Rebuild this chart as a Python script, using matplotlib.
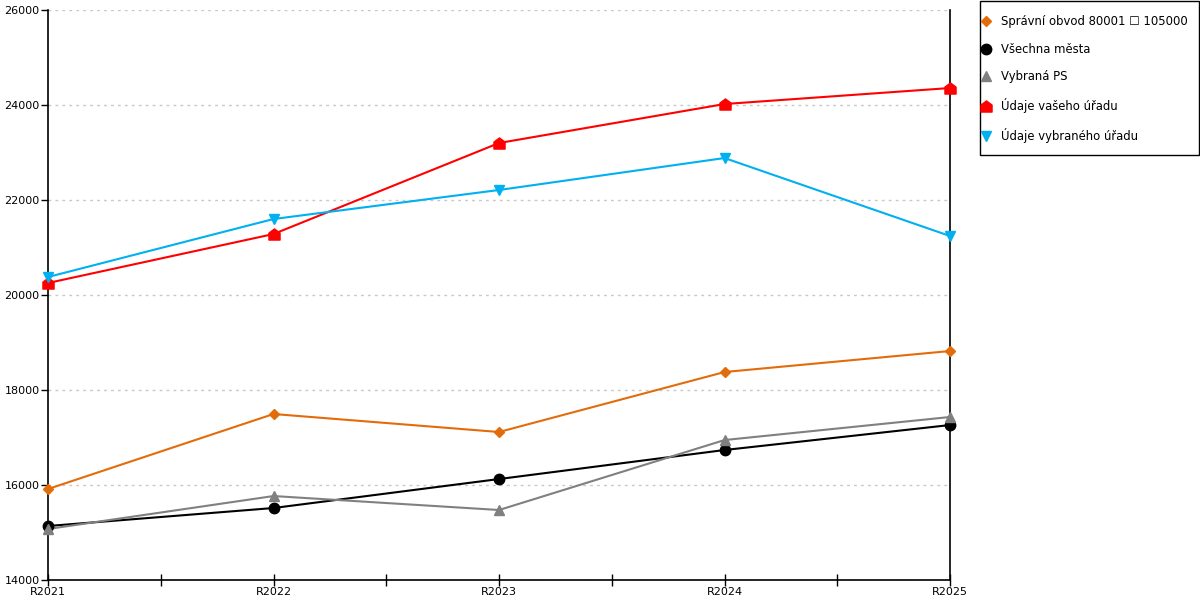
import numpy as np
import matplotlib
matplotlib.use("Agg")
import matplotlib.pyplot as plt
from matplotlib.path import Path
from matplotlib.patches import Rectangle
from matplotlib.ticker import MultipleLocator

plt.rcParams['font.family'] = ['DejaVu Sans']

years = ["R2021", "R2022", "R2023", "R2024", "R2025"]

spravni_obvod = [15916, 17495, 17116, 18379, 18821]
vsechna_mesta = [15137, 15516, 16126, 16737, 17263]
vybrana_ps = [15074, 15768, 15474, 16947, 17432]
vas_urad = [20253, 21284, 23200, 24021, 24358]
vybrany_urad = [20379, 21600, 22211, 22884, 21242]

labels = [
    "Správní obvod 80001 \u2610 105000",
    "Všechna města",
    "Vybraná PS",
    "Údaje vašeho úřadu",
    "Údaje vybraného úřadu",
]

# house-shaped marker for the red series
house = Path([(-1, -1), (1, -1), (1, 0.25), (0, 1), (-1, 0.25), (-1, -1)],
             [Path.MOVETO, Path.LINETO, Path.LINETO, Path.LINETO, Path.LINETO, Path.CLOSEPOLY])

series = [
    (spravni_obvod, "#E36C0A", "D", 5.5),
    (vsechna_mesta, "#000000", "o", 7.5),
    (vybrana_ps, "#808080", "^", 7.5),
    (vas_urad, "#FF0000", house, 8),
    (vybrany_urad, "#00B0F0", "v", 7.5),
]

fig = plt.figure(figsize=(12, 6), dpi=100)
ax = fig.add_axes([0.04, 0.0333, 0.7517, 0.95])

x = np.arange(len(years))
handles = []
for (vals, col, mk, ms), lab in zip(series, labels):
    ax.plot(x, vals, color=col, lw=1.5, zorder=3)
    h, = ax.plot(x, vals, color=col, marker=mk, ms=ms, ls="none", zorder=4,
                 label=lab, clip_on=False)
    handles.append(h)

ax.set_xlim(0, len(years) - 1)
ax.set_ylim(14000, 26000)
ax.yaxis.set_major_locator(MultipleLocator(2000))
ax.set_xticks(x)
ax.set_xticklabels(years)
ax.set_xticks(x[:-1] + 0.5, minor=True)
ax.tick_params(axis="x", which="both", direction="inout", length=8, width=1,
               labelsize=8, pad=1)
ax.tick_params(axis="y", direction="out", length=5, width=1, labelsize=8, pad=1)

ax.grid(axis="y", color="#C8C8C8", ls=(0, (2, 3)), lw=1)
ax.set_axisbelow(True)
ax.spines["top"].set_visible(False)
for s in ("left", "bottom", "right"):
    ax.spines[s].set_linewidth(1.2)
    ax.spines[s].set_color("black")

# legend box drawn separately so its size matches the reference
fig.patches.append(Rectangle((980 / 1200, 1 - 155 / 600), 219 / 1200, 154 / 600,
                             transform=fig.transFigure, fill=False,
                             edgecolor="black", linewidth=1))
fig.legend(handles=handles, loc="upper left",
           bbox_to_anchor=(982 / 1200, 1 - 15 / 600), fontsize=8.4,
           frameon=False, labelspacing=1.26, handlelength=0.6,
           handletextpad=1.0, borderpad=0, borderaxespad=0)

fig.savefig("out.png", dpi=100)
